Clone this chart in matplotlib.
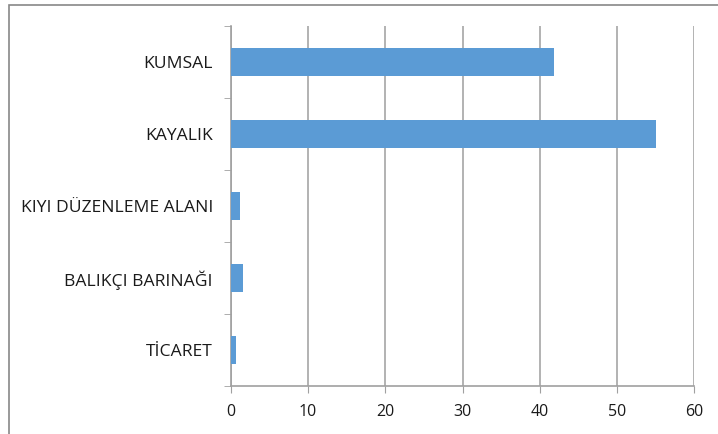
import numpy as np
import matplotlib
matplotlib.use("Agg")
import matplotlib.pyplot as plt
from matplotlib.patches import Rectangle
from matplotlib.ticker import FixedLocator

categories = ["KUMSAL", "KAYALIK", "KIYI DÜZENLEME ALANI", "BALIKÇI BARINAĞI", "TİCARET"]
values = [41.8, 55.1, 1.2, 1.6, 0.6]
xticks = [0, 10, 20, 30, 40, 50, 60]

plt.rcParams['font.family'] = ['Open Sans', 'DejaVu Sans']

fig = plt.figure(figsize=(7.18, 4.34), dpi=100)
ax = fig.add_axes([231/718, 48/434, 463/718, 360/434])

# border of the chart area (left and top visible only)
fig.patches.append(Rectangle((9/718, -0.05), 1.2, (434-5)/434 + 0.05,
                             transform=fig.transFigure, fill=False,
                             edgecolor='#888888', linewidth=1.2))

y = np.arange(len(categories))[::-1]
ax.barh(y, values, height=0.4, color='#5B9BD5', zorder=3)

ax.set_xlim(0, 60)
ax.set_ylim(-0.5, len(categories) - 0.5)
ax.set_xticks(xticks)
ax.set_xticklabels([str(t) for t in xticks], fontsize=11.5, color='#1a1a1a')
ax.set_yticks(y)
ax.set_yticklabels(categories, fontsize=12.6, color='#1a1a1a')
ax.yaxis.set_minor_locator(FixedLocator(np.arange(-0.5, len(categories), 1.0)))

ax.tick_params(axis='y', which='major', length=0, pad=13)
ax.tick_params(axis='y', which='minor', length=5, color='#a0a0a0', direction='out')
ax.tick_params(axis='x', length=5, color='#a0a0a0', direction='out', pad=8)

ax.grid(axis='x', color='#a6a6a6', linewidth=1.2, zorder=0)
for s in ['top', 'right']:
    ax.spines[s].set_visible(False)
ax.spines['left'].set_color('#a0a0a0')
ax.spines['bottom'].set_color('#a0a0a0')
ax.spines['left'].set_linewidth(1.2)
ax.spines['bottom'].set_linewidth(1.2)

fig.savefig("out.png", dpi=100)
